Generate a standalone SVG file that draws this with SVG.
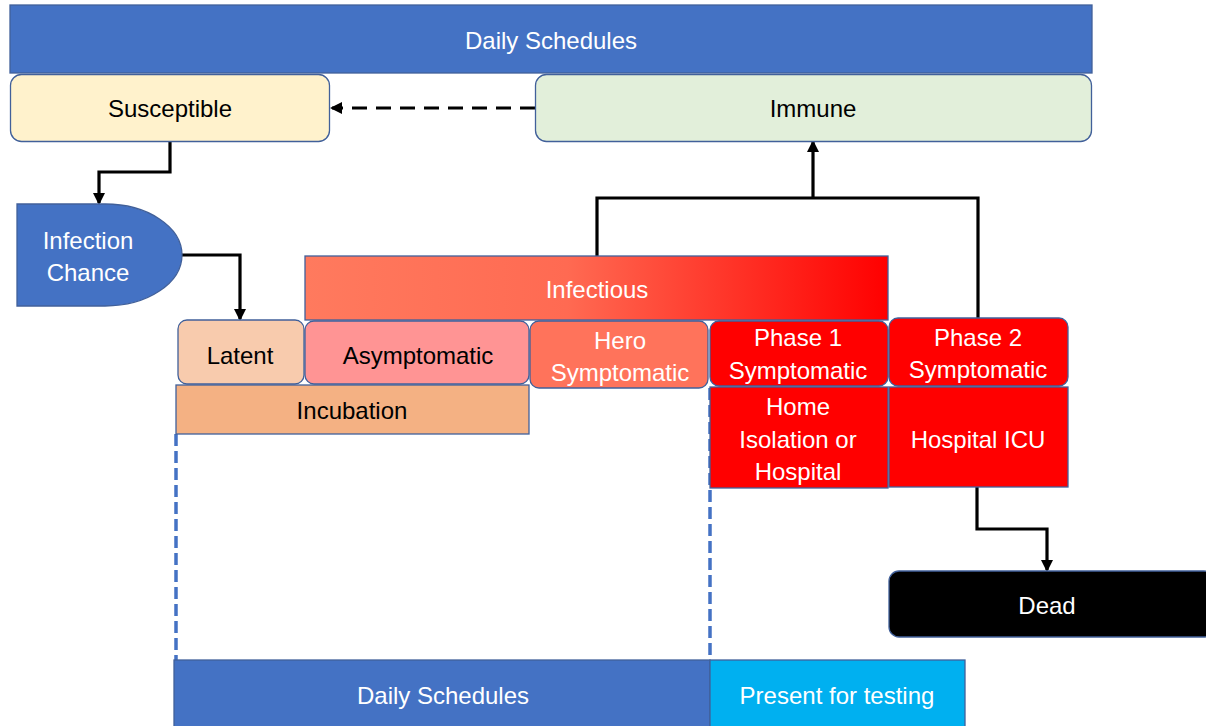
<svg xmlns="http://www.w3.org/2000/svg" width="1206" height="726" viewBox="0 0 1206 726">
<style>
text{font-family:"Liberation Sans",Arial,sans-serif;font-size:24px;text-anchor:middle;dominant-baseline:central}
.w{fill:#fff}.k{fill:#000}
.bx{stroke:#41609A;stroke-width:1.3}
.con{fill:none;stroke:#000;stroke-width:3.2}
.dash{fill:none;stroke:#4472C4;stroke-width:3.5;stroke-dasharray:12 5}
</style>
<defs>
<linearGradient id="gInf" x1="0" x2="1" y1="0" y2="0">
<stop offset="0" stop-color="#FF7A5E"/>
<stop offset="0.45" stop-color="#FF6A52"/>
<stop offset="1" stop-color="#FF0000"/>
</linearGradient>
<marker id="ah" markerWidth="12" markerHeight="12" refX="10" refY="6" orient="auto" markerUnits="userSpaceOnUse" viewBox="0 0 12 12">
<path d="M0,0 L12,6 L0,12 z" fill="#000"/>
</marker>
</defs>

<g id="connectors">
<line class="dash" x1="176" y1="434" x2="176" y2="662"/>
<line class="dash" x1="710" y1="388" x2="710" y2="662"/>
<line class="con" x1="535" y1="108" x2="332" y2="108" stroke-dasharray="15 9" marker-end="url(#ah)"/>
<polyline class="con" points="170,141 170,172 99,172 99,203" marker-end="url(#ah)"/>
<polyline class="con" points="182,255 240,255 240,319" marker-end="url(#ah)"/>
<polyline class="con" points="597,256 597,198 978,198 978,318"/>
<line class="con" x1="813" y1="198" x2="813" y2="142" marker-end="url(#ah)"/>
<polyline class="con" points="977,487 977,529 1047,529 1047,570" marker-end="url(#ah)"/>
</g>

<g id="daily-top"><rect class="bx" x="10" y="5" width="1082" height="68" fill="#4472C4"/><text class="w" x="551" y="40">Daily Schedules</text></g>
<g id="susceptible"><rect class="bx" x="10.5" y="74.5" width="319" height="67" rx="11" fill="#FFF2CC"/><text class="k" x="170" y="108">Susceptible</text></g>
<g id="immune"><rect class="bx" x="535.5" y="74.5" width="556" height="67" rx="11" fill="#E2EFDA"/><text class="k" x="813" y="108">Immune</text></g>
<g id="infection-chance"><path class="bx" d="M17,204 H105 A77,51 0 0 1 105,306 H17 Z" fill="#4472C4"/><text class="w" x="88" y="240">Infection</text><text class="w" x="88" y="272">Chance</text></g>
<g id="infectious"><rect class="bx" x="305" y="256" width="583" height="64" fill="url(#gInf)"/><text class="w" x="597" y="289">Infectious</text></g>
<g id="latent"><rect class="bx" x="178" y="320" width="126" height="64" rx="9" fill="#F8CBAD"/><text class="k" x="240" y="355">Latent</text></g>
<g id="asymptomatic"><rect class="bx" x="305" y="321" width="224" height="63" rx="9" fill="#FF9494"/><text class="k" x="418" y="355">Asymptomatic</text></g>
<g id="hero"><rect class="bx" x="530" y="321" width="178" height="67" rx="9" fill="#FF735B"/><text class="w" x="620" y="340">Hero</text><text class="w" x="620" y="372">Symptomatic</text></g>
<g id="phase1"><rect class="bx" x="710" y="321" width="178" height="65" rx="9" fill="#FF0000"/><text class="w" x="798" y="337">Phase 1</text><text class="w" x="798" y="370">Symptomatic</text></g>
<g id="phase2"><rect class="bx" x="889" y="318" width="179" height="68" rx="9" fill="#FF0000"/><text class="w" x="978" y="337">Phase 2</text><text class="w" x="978" y="369">Symptomatic</text></g>
<g id="incubation"><rect class="bx" x="176" y="385" width="353" height="49" fill="#F4B183"/><text class="k" x="352" y="410">Incubation</text></g>
<g id="home"><rect class="bx" x="710" y="387" width="178" height="101" fill="#FF0000"/><text class="w" x="798" y="406">Home</text><text class="w" x="798" y="439">Isolation or</text><text class="w" x="798" y="471">Hospital</text></g>
<g id="icu"><rect class="bx" x="889" y="387" width="179" height="100" fill="#FF0000"/><text class="w" x="978" y="439">Hospital ICU</text></g>
<g id="dead"><rect class="bx" x="889" y="571" width="325" height="66" rx="10" fill="#000"/><text class="w" x="1047" y="605">Dead</text></g>
<g id="daily-bottom"><rect class="bx" x="174" y="660" width="536" height="70" fill="#4472C4"/><text class="w" x="443" y="695">Daily Schedules</text></g>
<g id="testing"><rect class="bx" x="710" y="660" width="255" height="70" fill="#00B0F0"/><text class="w" x="837" y="695">Present for testing</text></g>
</svg>
